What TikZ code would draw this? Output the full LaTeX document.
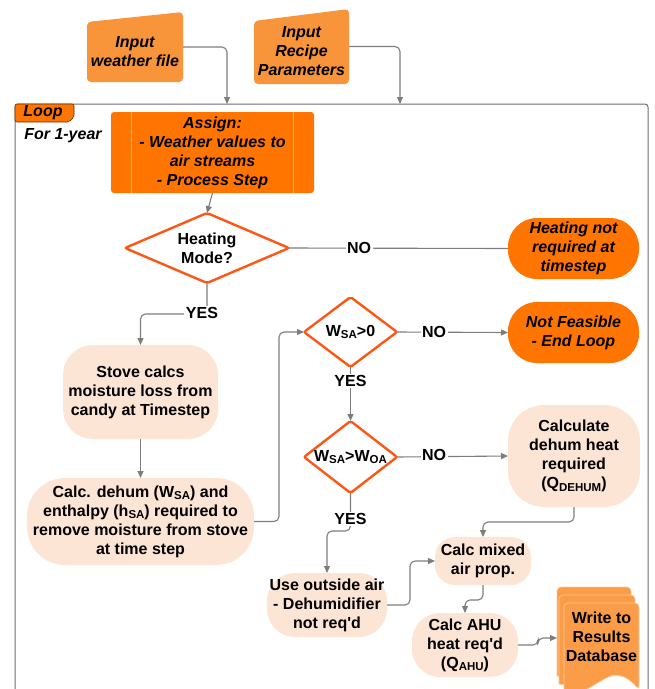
\documentclass[tikz,border=0pt]{standalone}
\usepackage{fontspec}
\setmainfont{Liberation Sans}[Ligatures=TeXOff]
\usetikzlibrary{shapes.geometric,arrows.meta,calc}
\definecolor{inorange}{RGB}{248,148,58}
\definecolor{dkorange}{RGB}{255,117,0}
\definecolor{peach}{RGB}{253,229,213}
\definecolor{dstroke}{RGB}{252,88,20}
\definecolor{dborange}{RGB}{250,156,72}
\definecolor{conncol}{RGB}{125,125,125}
\definecolor{framecol}{RGB}{110,110,110}
\newcommand\sbs[1]{\raisebox{-0.3ex}{\fontsize{11.5}{11.5}\selectfont #1}}
\begin{document}
\begin{tikzpicture}[x=1pt,y=-1pt,
  every node/.style={font=\fontsize{16}{19}\selectfont\bfseries, inner sep=0pt, outer sep=0pt, align=center},
  ital/.style={font=\fontsize{16}{19}\selectfont\bfseries\itshape},
  sz/.style 2 args={minimum width=#1pt, minimum height=#2pt},
  conn/.style={draw=conncol, line width=1.1pt, rounded corners=5pt},
  arr/.style={conn, -{Triangle[length=7pt,width=6pt]}},
  peachbox/.style={fill=peach},
  termbox/.style={fill=dkorange, ital},
  dia/.style={diamond, draw=dstroke, line width=2.4pt, fill=white, rounded corners=2pt},
  lab/.style={fill=white, inner sep=1.5pt},
  docsh/.style={fill=dborange, draw=white!45!dborange, line width=0.7pt}
]
\useasboundingbox (0,0) rectangle (655,689);

% loop frame
\draw[framecol, line width=1pt, rounded corners=3pt] (15,689) -- (15,104) -- (648,104) -- (648,689);
\fill[dkorange, draw=black!60!dkorange, line width=0.6pt, rounded corners=2pt] (15,122) -- (15,104) -- (74,104) -- (74,117) -- (69,122) -- cycle;
\node[ital] (looplab) at (43,112.5) {Loop};
\node[ital] (forlab) at (63,136) {For 1-year};

% inputs
\node[sz={96}{70}] (wfbox) at (135,47) {};
\fill[inorange, rounded corners=4pt] (wfbox.south west) -- ([yshift=-10pt]wfbox.north west) -- (wfbox.north east) -- (wfbox.south east) -- cycle;
\node[ital] (wftext) at (135,51.5) {Input\\weather file};
\node[sz={95}{75}] (rpbox) at (301.5,46.5) {};
\fill[inorange, rounded corners=4pt] (rpbox.south west) -- ([yshift=-12pt]rpbox.north west) -- (rpbox.north east) -- (rpbox.south east) -- cycle;
\node[ital] (rptext) at (301.5,51) {Input\\Recipe\\Parameters};
\coordinate (tip1) at (227,104);
\coordinate (tip2) at (400,104);
\draw[arr] (wfbox.east) -| (tip1);
\draw[arr] (rpbox.east) -| (tip2);

% assign
\node[sz={203}{81}, fill=dkorange, rounded corners=3pt, ital] (assign) at (212.5,152.5) {Assign:\\- Weather values to\\air streams\\- Process Step};
\draw[white!45!dkorange, line width=0.8pt] ([xshift=20pt]assign.north west) -- ([xshift=20pt]assign.south west);
\draw[white!45!dkorange, line width=0.8pt] ([xshift=-21pt]assign.north east) -- ([xshift=-21pt]assign.south east);

% diamonds
\node[dia, sz={164}{70}, aspect=2.34] (hm) at (207,248) {Heating\\Mode?};
\node[dia, sz={93}{70}, aspect=1.33] (wsa0) at (350.5,332) {W\sbs{SA}>0};
\node[dia, sz={93}{72}, aspect=1.29] (wsawoa) at (350.5,457) {W\sbs{SA}>W\sbs{OA}};

% terminators
\node[termbox, sz={131}{61}, rounded corners=29pt] (hn) at (573.5,248.5) {Heating not\\required at\\timestep};
\node[termbox, sz={131}{61}, rounded corners=29pt] (nf) at (573.5,332.5) {Not Feasible\\- End Loop};

% process boxes
\node[peachbox, sz={155}{94}, rounded corners=30pt] (stove) at (140.5,392) {Stove calcs\\moisture loss from\\candy at Timestep};
\node[peachbox, sz={227}{87}, rounded corners=38pt] (dehum) at (140.5,521.5) {Calc. dehum (W\sbs{SA}) and\\enthalpy (h\sbs{SA}) required to\\remove moisture from stove\\at time step};
\node[peachbox, sz={132}{102}, rounded corners=36pt] (qd) at (574,456) {Calculate\\dehum heat\\required\\(Q\sbs{DEHUM})};
\node[peachbox, sz={120}{64}, rounded corners=28pt] (uoa) at (327,605) {Use outside air\\- Dehumidifier\\not req'd};
\node[peachbox, sz={96}{48}, rounded corners=20pt] (cm) at (483,561) {Calc mixed\\air prop.};
\node[peachbox, sz={106}{64}, rounded corners=28pt] (ahu) at (465,645) {Calc AHU\\heat req'd\\(Q\sbs{AHU})};

% database (multi-document)
\node[sz={82}{102}] (db) at (598,638) {};
\path[docsh] (557,676) [rounded corners=4pt] -- (557,587) -- (631,587) -- (631,674) [sharp corners] .. controls (622,663) and (612,659) .. (602,662) .. controls (588,667) and (572,680) .. (557,676);
\path[docsh] (559,684) [rounded corners=4pt] -- (559,595) -- (635,595) -- (635,682) [sharp corners] .. controls (626,671) and (616,667) .. (606,670) .. controls (592,675) and (575,688) .. (559,684);
\path[docsh] (564,694) [rounded corners=4pt] -- (564,603) -- (639,603) -- (639,690) [sharp corners] .. controls (630,679) and (620,673) .. (611,676) .. controls (597,681) and (580,698) .. (564,694);
\node (dbt) at (601.5,637) {Write to\\Results\\Database};

% connectors
\draw[arr] (assign.south) -- (hm.north);
\draw[conn] (hm.east) -- (hn.west);
\node[lab] (no1) at (359,248) {NO};
\draw[arr] (hm.south) -- (207,314) -- (140.5,314) -- (stove.north);
\node[lab] (yes1) at (202,313) {YES};
\draw[arr] (stove.south) -- (dehum.north);
\draw[arr] (dehum.east) -- ++(25,0) |- (wsa0.west);
\draw[arr] (wsa0.east) -- (nf.west);
\node[lab] (no2) at (434,332) {NO};
\draw[arr] (wsa0.south) -- (wsawoa.north);
\node[lab] (yes2) at (350.5,381) {YES};
\draw[arr] (wsawoa.east) -- (qd.west);
\node[lab] (no3) at (434,455) {NO};
\draw[arr] (wsawoa.south) -- (350.5,531) -- (327,531) -- (uoa.north);
\node[lab] (yes3) at (350.5,519) {YES};
\draw[arr] (uoa.east) -- (410,605) |- (cm.west);
\draw[arr] (qd.south) -- (574,522) -| (cm.north);
\draw[arr] (cm.south) -- (483,600) -| (ahu.north);
\draw[arr] (ahu.east) -- (538,645) |- (db.west);
\end{tikzpicture}
\end{document}
